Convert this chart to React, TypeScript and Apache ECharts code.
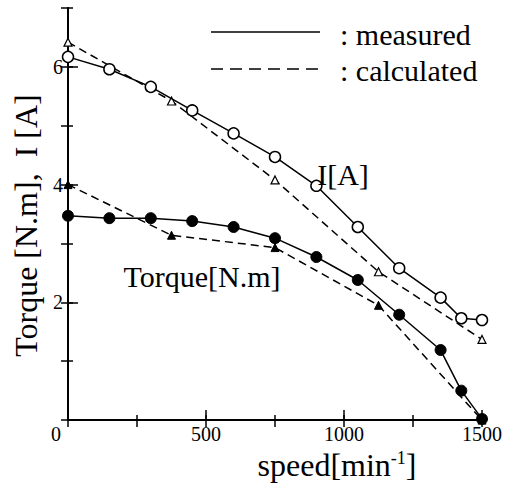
import React, { useEffect, useRef } from "react";
import * as echarts from "echarts";

const speedMeasured = [0, 150, 300, 450, 600, 750, 900, 1050, 1200, 1350, 1425, 1500];
const currentMeasured = [6.17, 5.96, 5.66, 5.26, 4.87, 4.47, 3.98, 3.28, 2.58, 2.08, 1.73, 1.7];
const torqueMeasured = [3.47, 3.43, 3.43, 3.38, 3.28, 3.09, 2.77, 2.38, 1.79, 1.19, 0.5, 0.02];

const speedCalculated = [0, 375, 750, 1125, 1500];
const currentCalculated = [6.42, 5.42, 4.08, 2.52, 1.37];
const torqueCalculated = [4.0, 3.14, 2.93, 1.95, 0.0];

const FONT = "Liberation Serif";

const pairs = (xs: number[], ys: number[]) => xs.map((x, i) => [x, ys[i]]);

export default function App() {
  const ref = useRef<HTMLDivElement>(null);
  useEffect(() => {
    if (!ref.current) return;
    const chart = echarts.init(ref.current, null, { renderer: "svg" });
    const black = "#000";
    const baseX = { type: "value", min: 0, max: 1500, gridIndex: 0 };
    const baseY = { type: "value", min: 0, max: 7, gridIndex: 0 };
    const txt = (text: string, x: number, y: number, size: number, align: string) => ({
      type: "text",
      x,
      y,
      z: 10,
      style: {
        text,
        fontSize: size,
        fontFamily: FONT,
        fill: black,
        textAlign: align,
        textVerticalAlign: "middle",
      },
    });
    chart.setOption({
      animation: false,
      backgroundColor: "#fff",
      textStyle: { fontFamily: FONT },
      grid: { left: 68, right: 20, top: 8, bottom: 61, containLabel: false },
      xAxis: [
        {
          ...baseX,
          position: "bottom",
          interval: 500,
          name: "{a|speed[min}{s|-1}{a|]}",
          nameLocation: "middle",
          nameGap: 24,
          nameTextStyle: {
            padding: [0, 0, 0, 124],
            fontFamily: FONT,
            rich: {
              a: { fontSize: 32, fontFamily: FONT, color: black },
              s: { fontSize: 18, fontFamily: FONT, color: black, verticalAlign: "top" },
            },
          },
          axisLine: { show: true, lineStyle: { color: black, width: 2 } },
          axisTick: { show: true, inside: true, length: 10, lineStyle: { color: black, width: 1.5 } },
          axisLabel: {
            color: black,
            fontSize: 20,
            fontFamily: FONT,
            margin: 4,
            formatter: (v: number) => (v === 0 ? "{z|0}" : String(v)),
            rich: { z: { fontSize: 20, fontFamily: FONT, color: black, padding: [0, 24, 0, 0] } },
          },
          splitLine: { show: false },
        },
        {
          ...baseX,
          position: "bottom",
          interval: 250,
          axisLine: { show: false },
          axisTick: { show: true, inside: true, length: 5, lineStyle: { color: black, width: 1.5 } },
          axisLabel: { show: false },
          splitLine: { show: false },
        },
        {
          ...baseX,
          position: "top",
          interval: 250,
          axisLine: { show: true, lineStyle: { color: black, width: 2 } },
          axisTick: { show: true, inside: true, length: 7, lineStyle: { color: black, width: 1.5 } },
          axisLabel: { show: false },
          splitLine: { show: false },
        },
      ],
      yAxis: [
        {
          ...baseY,
          position: "left",
          interval: 2,
          name: "Torque [N.m],  I [A]",
          nameLocation: "middle",
          nameGap: 22,
          nameTextStyle: { fontSize: 32, fontFamily: FONT, color: black, padding: [0, 23, 0, 0] },
          axisLine: { show: true, lineStyle: { color: black, width: 2 } },
          axisTick: { show: true, inside: true, length: 10, lineStyle: { color: black, width: 1.5 } },
          axisLabel: {
            color: black,
            fontSize: 20,
            fontFamily: FONT,
            margin: 5,
            showMinLabel: false,
            showMaxLabel: false,
            formatter: (v: number) => (v === 0 || v === 7 ? "" : String(v)),
          },
          splitLine: { show: false },
        },
        {
          ...baseY,
          position: "left",
          interval: 1,
          axisLine: { show: false },
          axisTick: { show: true, inside: true, length: 5, lineStyle: { color: black, width: 1.5 } },
          axisLabel: { show: false },
          splitLine: { show: false },
        },
        {
          ...baseY,
          position: "right",
          interval: 1,
          axisLine: { show: true, lineStyle: { color: black, width: 2 } },
          axisTick: { show: true, inside: true, length: 7, lineStyle: { color: black, width: 1.5 } },
          axisLabel: { show: false },
          splitLine: { show: false },
        },
      ],
      series: [
        {
          name: "I measured",
          type: "line",
          xAxisIndex: 0,
          yAxisIndex: 0,
          data: pairs(speedMeasured, currentMeasured),
          symbol: "circle",
          symbolSize: 11,
          clip: false,
          z: 5,
          lineStyle: { color: black, width: 1.5, type: "solid" },
          itemStyle: { color: "#fff", borderColor: black, borderWidth: 1.5 },
        },
        {
          name: "Torque measured",
          type: "line",
          xAxisIndex: 0,
          yAxisIndex: 0,
          data: pairs(speedMeasured, torqueMeasured),
          symbol: "circle",
          symbolSize: 11,
          clip: false,
          z: 5,
          lineStyle: { color: black, width: 1.5, type: "solid" },
          itemStyle: { color: black, borderColor: black, borderWidth: 1 },
        },
        {
          name: "I calculated",
          type: "line",
          xAxisIndex: 0,
          yAxisIndex: 0,
          data: pairs(speedCalculated, currentCalculated),
          symbol: "triangle",
          symbolSize: 8,
          clip: false,
          z: 4,
          lineStyle: { color: black, width: 1.5, type: [8, 5] },
          itemStyle: { color: "#fff", borderColor: black, borderWidth: 1.2 },
        },
        {
          name: "Torque calculated",
          type: "line",
          xAxisIndex: 0,
          yAxisIndex: 0,
          data: pairs(speedCalculated, torqueCalculated),
          symbol: "triangle",
          symbolSize: 8,
          clip: false,
          z: 4,
          lineStyle: { color: black, width: 1.5, type: [8, 5] },
          itemStyle: { color: black, borderColor: black, borderWidth: 1 },
        },
      ],
      graphic: [
        { type: "line", shape: { x1: 211, y1: 32, x2: 320, y2: 32 }, style: { stroke: black, lineWidth: 1.5 }, z: 10 },
        {
          type: "line",
          shape: { x1: 211, y1: 69, x2: 318, y2: 69 },
          style: { stroke: black, lineWidth: 1.5, lineDash: [12, 7] },
          z: 10,
        },
        txt(": measured", 340, 34, 30, "left"),
        txt(": calculated", 340, 70, 30, "left"),
        txt("I[A]", 343, 174, 30, "center"),
        txt("Torque[N.m]", 202, 276, 30, "center"),
      ],
    });
    return () => chart.dispose();
  }, []);
  return (
    <div
      ref={ref}
      style={{ position: "absolute", left: 0, top: 0, width: 505, height: 486 }}
    />
  );
}
